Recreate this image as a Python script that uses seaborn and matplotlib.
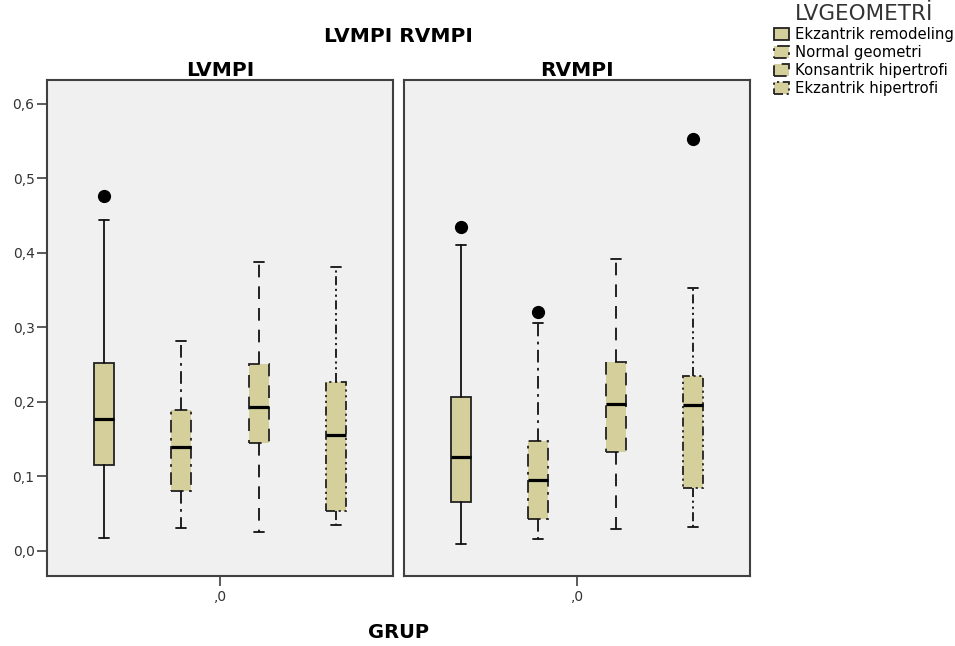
import matplotlib
matplotlib.use("Agg")
import matplotlib.pyplot as plt
import seaborn as sns
from matplotlib.patches import Patch

# LVGEOMETRİ groups
groups = ["Ekzantrik remodeling", "Normal geometri", "Konsantrik hipertrofi", "Ekzantrik hipertrofi"]

# LVMPI box statistics
lv_whislo = [0.017, 0.031, 0.025, 0.034]
lv_q1 = [0.115, 0.080, 0.145, 0.053]
lv_med = [0.177, 0.139, 0.193, 0.155]
lv_q3 = [0.252, 0.189, 0.251, 0.227]
lv_whishi = [0.444, 0.281, 0.387, 0.381]
lv_fliers = [[0.476], [], [], []]

# RVMPI box statistics
rv_whislo = [0.009, 0.016, 0.029, 0.032]
rv_q1 = [0.066, 0.042, 0.133, 0.084]
rv_med = [0.126, 0.095, 0.197, 0.195]
rv_q3 = [0.207, 0.147, 0.253, 0.234]
rv_whishi = [0.410, 0.306, 0.391, 0.353]
rv_fliers = [[0.435], [0.321], [], [0.553]]

panels = ["LVMPI", "RVMPI"]
yticks = [0.0, 0.1, 0.2, 0.3, 0.4, 0.5, 0.6]
ytick_labels = ["0,0", "0,1", "0,2", "0,3", "0,4", "0,5", "0,6"]
xtick_label = ",0"

box_color = "#d4cf9b"
line_styles = ["solid", (0, (7, 3, 1.5, 3)), (0, (7, 5)), (0, (5, 2, 1.2, 2, 1.2, 2))]

sns.set_style("ticks", {"axes.facecolor": "#f0f0f0", "axes.edgecolor": "#404040",
                        "text.color": "black", "xtick.color": "#404040", "ytick.color": "#404040"})
plt.rcParams["font.family"] = ["DejaVu Sans"]

fig = plt.figure(figsize=(9.55, 6.46), dpi=100)
ax_l = fig.add_axes([47 / 955, 1 - 576 / 646, 346 / 955, 496 / 646])
ax_r = fig.add_axes([404 / 955, 1 - 576 / 646, 346 / 955, 496 / 646])

positions = [-1.5, -0.5, 0.5, 1.5]
data = [
    (lv_whislo, lv_q1, lv_med, lv_q3, lv_whishi, lv_fliers),
    (rv_whislo, rv_q1, rv_med, rv_q3, rv_whishi, rv_fliers),
]

for ax, (wlo, q1, med, q3, whi, fl) in zip([ax_l, ax_r], data):
    for i, g in enumerate(groups):
        stats = [{"label": g, "whislo": wlo[i], "q1": q1[i], "med": med[i],
                  "q3": q3[i], "whishi": whi[i], "fliers": fl[i]}]
        ls = line_styles[i]
        ax.bxp(stats, positions=[positions[i]], widths=0.26, capwidths=0.13,
               patch_artist=True, manage_ticks=False,
               boxprops=dict(facecolor=box_color, edgecolor="#222222", linewidth=1.3, linestyle=ls),
               whiskerprops=dict(color="#111111", linewidth=1.3, linestyle=ls),
               capprops=dict(color="#111111", linewidth=1.3),
               medianprops=dict(color="black", linewidth=2.3, solid_capstyle="butt"),
               flierprops=dict(marker="o", markerfacecolor="black", markeredgecolor="black",
                               markersize=8.5))
    ax.set_xlim(-2.23, 2.23)
    ax.set_ylim(-0.034, 0.632)
    ax.set_xticks([0])
    ax.set_xticklabels([xtick_label], fontsize=10, color="#333333")
    ax.tick_params(axis="x", length=7, width=1.2, pad=3)
    for s in ax.spines.values():
        s.set_linewidth(1.5)
        s.set_visible(True)

ax_l.set_yticks(yticks)
ax_l.set_yticklabels(ytick_labels, fontsize=10, color="#333333")
ax_l.tick_params(axis="y", length=7, width=1.2, pad=2)
ax_r.set_yticks([])

fig.text(398 / 955, 1 - 36 / 646, "LVMPI RVMPI", ha="center", va="center",
         fontsize=14.5, fontweight="bold", color="black")
fig.text(220 / 955, 1 - 70 / 646, panels[0], ha="center", va="center",
         fontsize=14.5, fontweight="bold", color="black")
fig.text(577 / 955, 1 - 70 / 646, panels[1], ha="center", va="center",
         fontsize=14.5, fontweight="bold", color="black")
fig.text(398 / 955, 1 - 632 / 646, "GRUP", ha="center", va="center",
         fontsize=14, fontweight="bold", color="black")

handles = [Patch(facecolor=box_color, edgecolor="#222222", linewidth=1.3, linestyle=ls)
           for ls in line_styles]
leg = fig.legend(handles, groups, title="LVGEOMETRİ", loc="upper left",
                 bbox_to_anchor=(774 / 955, 1 - 4 / 646), frameon=False, fontsize=10.7,
                 title_fontsize=15.5, handlelength=1.0, handleheight=0.85, handletextpad=0.4,
                 labelspacing=0.2, borderpad=0, borderaxespad=0)
leg._legend_handle_box.sep = 1
for t in leg.get_texts():
    t.set_color("black")
leg.get_title().set_color("#333333")

fig.savefig("out.png", dpi=100, facecolor="white")
